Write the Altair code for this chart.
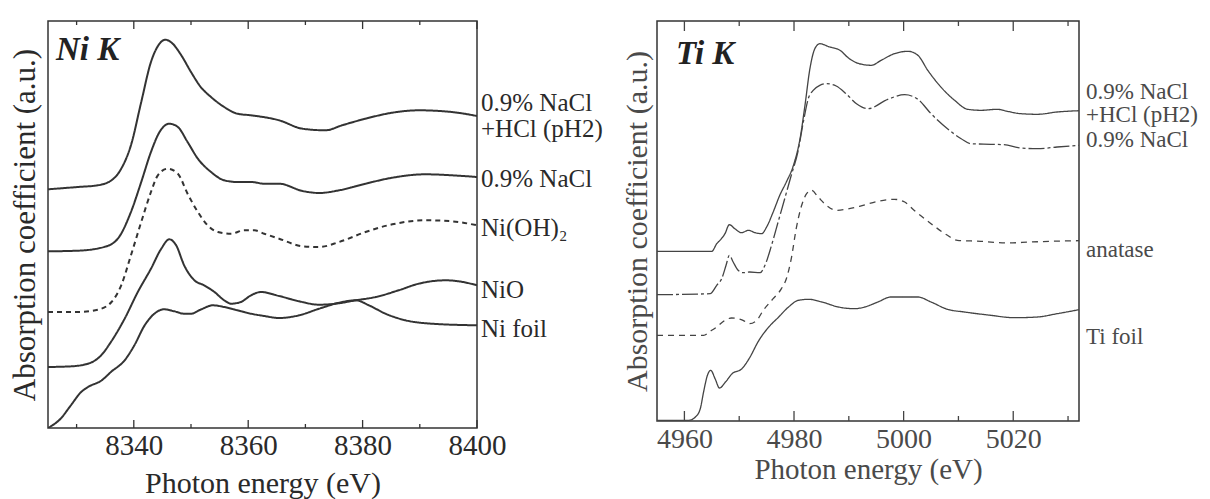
import altair as alt
import pandas as pd

FONT = "Liberation Serif"

# ---------------- Ni K-edge (left panel) ----------------
ni_labels = ["0.9% NaCl\n+HCl (pH2)", "0.9% NaCl", "Ni(OH)₂", "NiO", "Ni foil"]

ni_ph2_e = [8325, 8330.2, 8333.7, 8336.1, 8337.8, 8339.5, 8341.3, 8343.0, 8344.5, 8345.5,
            8346.8, 8348.3, 8350.0, 8351.7, 8353.5, 8355.8, 8358.1, 8360.5, 8365.4, 8369.5,
            8373.5, 8376.4, 8380.5, 8385.2, 8389.8, 8395.6, 8400]
ni_ph2_mu = [238.7, 241, 242.7, 247.7, 259.3, 282.7, 326, 366, 384.3, 388.3,
             384.3, 372.7, 356, 341, 331, 321, 314.3, 312.7, 307.7, 299.3,
             297.7, 302.7, 309.3, 315.3, 317.7, 316, 312]

ni_nacl_e = [8325, 8330.2, 8334.8, 8337.2, 8339.5, 8341.3, 8343.0, 8344.5, 8346.2, 8347.7,
             8349.4, 8351.2, 8353.5, 8355.8, 8358.1, 8360.5, 8362.8, 8365.4, 8369.5, 8372.4,
             8375.9, 8380.5, 8385.2, 8391.0, 8395.6, 8400]
ni_nacl_mu = [176.7, 177.3, 181, 189.3, 216, 246, 276, 296, 304.3, 301,
              286, 269.3, 256, 247.7, 246, 246, 244.3, 244.3, 237, 235,
              237.7, 244.3, 250.3, 253.7, 252.7, 251]

ni_oh_e = [8325, 8330.2, 8333.7, 8336.1, 8337.8, 8339.5, 8341.3, 8343.0, 8344.2, 8345.9,
           8347.7, 8349.4, 8351.2, 8352.9, 8354.7, 8357.0, 8359.3, 8361.1, 8362.8, 8365.4,
           8369.5, 8372.4, 8375.9, 8380.5, 8385.2, 8391.0, 8395.6, 8400]
ni_oh_mu = [116, 116, 118.3, 126, 142.7, 172.7, 206, 236, 252.7, 259.3,
            254.3, 234.3, 216, 202.7, 196, 194.3, 197.7, 197.7, 194.3, 189.3,
            181.7, 181, 186, 196, 203.7, 207.7, 206.7, 202.7]

ni_nio_e = [8325, 8329.1, 8332.0, 8334.3, 8336.0, 8338.4, 8340.7, 8343.0, 8344.8, 8346.2,
            8347.4, 8348.8, 8350.6, 8352.3, 8354.1, 8355.8, 8357.0, 8358.7, 8360.5, 8362.2,
            8365.4, 8368.9, 8372.4, 8375.3, 8378.8, 8382.3, 8386.3, 8389.8, 8394.5, 8396.8, 8400]
ni_nio_mu = [61, 61.7, 64.3, 72.7, 86, 109.3, 136, 159.3, 179.3, 188.7,
             182.7, 162.7, 147.7, 142.7, 136, 127.7, 124.3, 126, 132.7, 136,
             132, 126.7, 123.3, 124.3, 127.7, 131, 137.7, 144.3, 147.7, 146.7, 142.7]

ni_foil_e = [8325, 8327.2, 8329.0, 8330.8, 8332.0, 8334.4, 8336.0, 8338.4, 8340.1, 8341.9,
             8343.6, 8345.3, 8347.1, 8348.8, 8350.0, 8351.8, 8353.8, 8355.8, 8358.1, 8360.5,
             8362.8, 8365.4, 8368.9, 8372.4, 8375.9, 8378.8, 8381.1, 8384.0, 8387.5, 8392.1, 8400]
ni_foil_mu = [0, 9.3, 22.7, 36, 41, 47.7, 56, 67.7, 82.7, 102.7,
              114.3, 118.7, 116.7, 114.3, 114.3, 118.7, 122.7, 121, 117.7, 114.3,
              112, 110, 112.7, 119.3, 125.3, 127.7, 122.7, 114.3, 107.7, 104.3, 102.7]

ni_major_ticks = [8340, 8360, 8380, 8400]
ni_minor_ticks = [8330, 8350, 8370, 8390]

# ---------------- Ti K-edge (right panel) ----------------
ti_labels = ["0.9% NaCl\n+HCl (pH2)", "0.9% NaCl", "anatase", "Ti foil"]

ti_ph2_e = [4955.0, 4965.0, 4965.9, 4966.6, 4967.4, 4968.2, 4969.2, 4970.4, 4971.7, 4972.9,
            4974.1, 4975.0, 4976.2, 4977.4, 4978.6, 4979.9, 4981.1, 4982.0, 4982.9, 4983.8,
            4984.7, 4986.5, 4988.3, 4990.1, 4991.9, 4994.1, 4995.9, 4998.3, 5000.8, 5002.6,
            5004.4, 5006.8, 5009.3, 5011.7, 5014.1, 5017.1, 5018.9, 5021.4, 5024.4, 5028.0, 5032]
ti_ph2_mu = [169.7, 169.7, 177.3, 181.3, 187.3, 196.3, 192.3, 188.3, 190.7, 188.3,
             187.3, 194, 209, 225.7, 239, 255.7, 282.3, 315.7, 352.3, 372.3,
             377.3, 374, 371, 362.3, 357.3, 355.7, 360.7, 367.3, 369.7, 365.7,
             350.7, 334, 320.7, 311.7, 310.7, 311.7, 309.7, 307.3, 306.7, 309, 310.3]

ti_nacl_e = [4955.0, 4964.7, 4965.9, 4966.8, 4967.6, 4968.2, 4968.9, 4969.8, 4970.7, 4971.9,
             4973.8, 4974.7, 4975.9, 4977.1, 4978.3, 4979.5, 4980.7, 4981.7, 4982.6, 4983.5,
             4984.7, 4985.9, 4987.7, 4989.5, 4991.4, 4993.5, 4997.1, 5000.2, 5002.6, 5005.0,
             5008.0, 5010.5, 5012.3, 5015.9, 5018.3, 5021.4, 5024.4, 5028.0, 5032]
ti_nacl_mu = [126.3, 127.3, 135.7, 142.3, 155.7, 165.7, 159, 150.7, 148.3, 149,
              148.3, 155.7, 175.7, 199, 222.3, 245.7, 269, 299, 322.3, 330.7,
              335.7, 337.3, 335, 327.3, 317.3, 312.3, 321.7, 326.3, 321.7, 307.3,
              292.3, 282.3, 277.3, 276.7, 276.3, 273, 272.3, 274, 275.7]

ti_anat_e = [4955.0, 4963.5, 4964.7, 4965.9, 4967.4, 4968.6, 4969.8, 4970.7, 4971.9, 4973.2,
             4974.4, 4976.2, 4977.7, 4978.6, 4979.5, 4980.4, 4981.4, 4982.3, 4983.2, 4984.4,
             4985.9, 4987.7, 4990.1, 4992.6, 4995.3, 4998.3, 5000.2, 5001.9, 5005.0, 5008.0,
             5009.8, 5014.1, 5018.9, 5023.2, 5026.8, 5032]
ti_anat_mu = [85.7, 85.7, 89.7, 94, 100.7, 103, 102.3, 100.7, 97.3, 100.7,
              110.7, 122.3, 132.3, 142.3, 162.3, 192.3, 215.7, 227.3, 230.7, 224,
              215.7, 210.7, 212.3, 215.7, 219.7, 221.7, 219, 210.7, 197.3, 185.7,
              180.7, 179.7, 178, 179, 179.7, 180.3]

ti_foil_e = [4955.0, 4960.8, 4962.0, 4962.9, 4963.5, 4964.2, 4964.8, 4965.6, 4966.4, 4967.5,
             4968.7, 4970.5, 4971.8, 4973.6, 4975.4, 4977.2, 4979.0, 4980.8, 4982.7, 4985.1,
             4988.1, 4991.1, 4992.9, 4995.3, 4997.7, 5002.6, 5005.0, 5008.0, 5011.1, 5015.9,
             5020.2, 5024.4, 5028.0, 5032]
ti_foil_mu = [0.7, 0.7, 4, 12.3, 29, 45.7, 50.7, 42.3, 33, 39,
              47.3, 52.3, 62.3, 80.7, 94, 104, 114, 120.7, 121.7, 119,
              114, 112.3, 114, 119, 124, 124, 119, 111.7, 109, 105.7,
              103.3, 104, 107.3, 111.3]

ti_major_ticks = [4960, 4980, 5000, 5020]
ti_minor_ticks = [4970, 4990, 5010, 5030]


def panel(names, es, mus, dashes, xdom, ydom, w, h, majors, minors, tag, tag_pos,
          label_dy, label_dx, color, line_w, text_color, tick_font, title_font,
          label_pad, title_pad, ytitle_pad, major_len, minor_len, label_font, label_lh):
    xs = alt.Scale(domain=xdom, nice=False, zero=False)
    ys = alt.Scale(domain=ydom, nice=False, zero=False)
    x_axis = alt.Axis(
        values=majors, format="d", ticks=False, domain=False, grid=False,
        labelFlush=False, labelOverlap=False, labelFont=FONT, labelFontSize=tick_font,
        labelColor=text_color, labelPadding=label_pad,
        title="Photon energy (eV)", titleFont=FONT, titleFontSize=title_font,
        titleFontWeight="normal", titleColor=text_color, titlePadding=title_pad)
    y_axis = alt.Axis(
        labels=False, ticks=False, domain=False, grid=False,
        title="Absorption coefficient (a.u.)", titleFont=FONT, titleFontSize=title_font + 1,
        titleFontWeight="normal", titleColor=text_color, titlePadding=ytitle_pad)

    def xenc():
        return alt.X("energy:Q", scale=xs, axis=x_axis, title="Photon energy (eV)")

    def yenc():
        return alt.Y("mu:Q", scale=ys, axis=y_axis, title="Absorption coefficient (a.u.)")

    line_layers = []
    for n, e_list, m_list, dash in zip(names, es, mus, dashes):
        df = pd.DataFrame({"energy": e_list, "mu": m_list})
        line_layers.append(
            alt.Chart(df).mark_line(interpolate="monotone", clip=True, strokeWidth=line_w,
                                    color=color, strokeDash=dash)
            .encode(x=xenc(), y=yenc())
        )

    tick_layers = []
    for tvals, ln in ((majors, major_len), (minors, minor_len)):
        tdf = pd.DataFrame({"energy": tvals})
        base = alt.Chart(tdf).mark_rule(color=color, strokeWidth=1.3)
        tick_layers.append(base.encode(x=xenc(), y=alt.value(h), y2=alt.value(h - ln)))
        tick_layers.append(base.encode(x=xenc(), y=alt.value(0), y2=alt.value(ln)))

    tag_layer = alt.Chart(pd.DataFrame({"t": [tag]})).mark_text(
        font=FONT, fontStyle="italic", fontWeight="bold", fontSize=33,
        align="left", baseline="alphabetic", color="#222"
    ).encode(x=alt.value(tag_pos[0]), y=alt.value(tag_pos[1]), text="t:N")

    label_layers = []
    for n, m_list, dy in zip(names, mus, label_dy):
        label_layers.append(
            alt.Chart(pd.DataFrame({"t": [n]})).mark_text(
                font=FONT, fontSize=label_font, align="left", baseline="middle",
                dx=label_dx, dy=dy, lineBreak="\n", lineHeight=label_lh, color=text_color
            ).encode(x=alt.datum(xdom[1]), y=alt.datum(m_list[-1]), text="t:N")
        )

    return alt.layer(*line_layers, *tick_layers, tag_layer, *label_layers).properties(
        width=w, height=h)


left = panel(
    ni_labels,
    [ni_ph2_e, ni_nacl_e, ni_oh_e, ni_nio_e, ni_foil_e],
    [ni_ph2_mu, ni_nacl_mu, ni_oh_mu, ni_nio_mu, ni_foil_mu],
    [[1, 0], [1, 0], [5, 4], [1, 0], [1, 0]],
    [8325, 8400], [0, 407], 429, 407,
    ni_major_ticks, ni_minor_ticks, "Ni K", (8, 39),
    [-13, 2, 3, 5, 4], 4, "#333", 2.0, "#2a2a2a", 29, 30, 3, 8, 7, 8, 4, 25, 26)

right = panel(
    ti_labels,
    [ti_ph2_e, ti_nacl_e, ti_anat_e, ti_foil_e],
    [ti_ph2_mu, ti_nacl_mu, ti_anat_mu, ti_foil_mu],
    [[1, 0], [16, 3, 3, 3], [6, 5], [1, 0]],
    [4955, 5032], [0, 400], 422, 400,
    ti_major_ticks, ti_minor_ticks, "Ti K", (19, 43),
    [-19, -5, 9, 27], 7, "#444", 1.3, "#4a4a4a", 28, 29, 4, 2, 5, 10, 5, 23, 23)

chart = alt.hconcat(left, right, spacing=180, bounds="flush").properties(
    padding={"left": 0, "top": 11, "right": 0, "bottom": 0}
).configure_view(stroke="#333", strokeWidth=1.5)

chart.save("out.html", embed_options={"renderer": "svg", "actions": False})
